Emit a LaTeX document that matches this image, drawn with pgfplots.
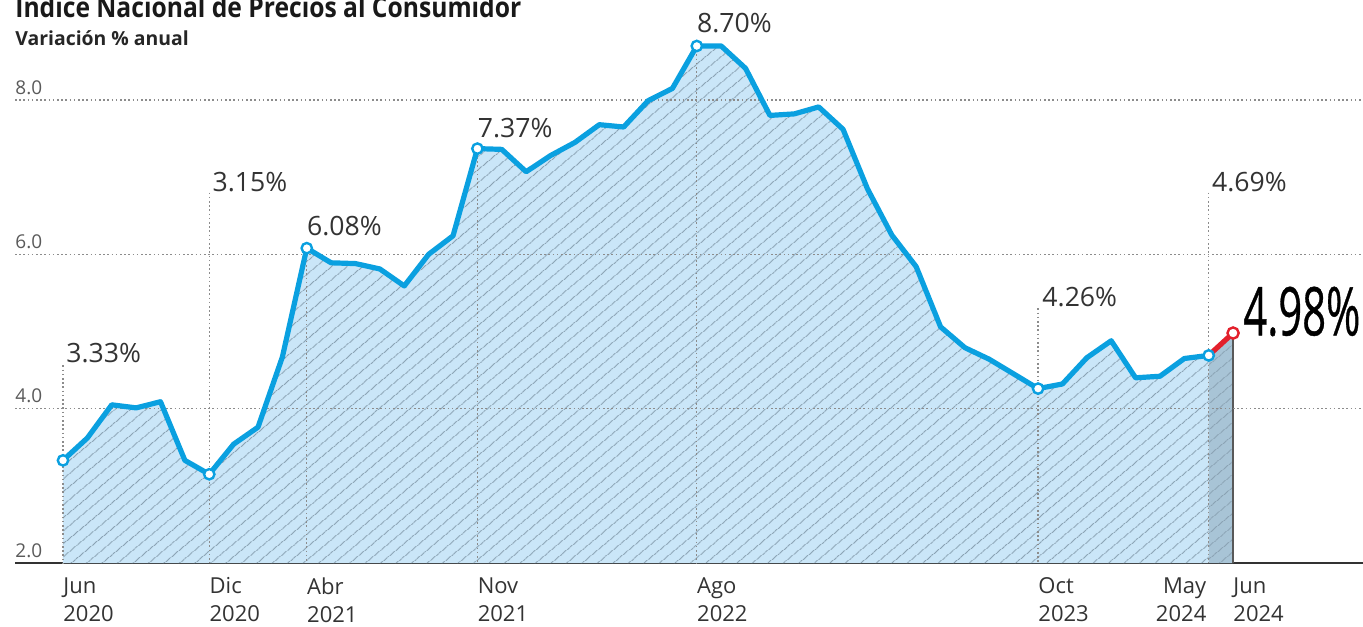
\documentclass[border=0pt]{standalone}
\usepackage{pgfplots}
\pgfplotsset{compat=1.18}
\usepackage{pgfplotstable}
\usepackage{fontspec}
\setmainfont{Open Sans}
\newfontfamily\bigfont{Open Sans}[FakeBold=0.7]
\usepackage{graphicx}
\usetikzlibrary{patterns.meta}
\definecolor{lineblue}{HTML}{0AA0E0}
\definecolor{fillblue}{HTML}{CAE6F8}
\definecolor{hatch}{HTML}{8AA2B3}
\definecolor{darkfill}{HTML}{A8C4D6}
\definecolor{redline}{HTML}{E3202C}
\definecolor{gridgray}{HTML}{8C8C8C}
\definecolor{txt}{HTML}{333333}
\definecolor{ticktxt}{HTML}{5A5A5A}

\pgfplotstableread{
x y
0 3.33
1 3.62
2 4.05
3 4.01
4 4.09
5 3.33
6 3.15
7 3.54
8 3.76
9 4.67
10 6.08
11 5.89
12 5.88
13 5.81
14 5.59
15 6.00
16 6.24
17 7.37
18 7.36
19 7.07
20 7.28
21 7.45
22 7.68
23 7.65
24 7.99
25 8.15
26 8.70
27 8.70
28 8.41
29 7.80
30 7.82
31 7.91
32 7.62
33 6.85
34 6.25
35 5.84
36 5.06
37 4.79
38 4.64
39 4.45
40 4.26
41 4.32
42 4.66
43 4.88
44 4.40
45 4.42
46 4.65
47 4.69
48 4.98
}\inpc

\begin{document}
\begin{tikzpicture}
\begin{axis}[at={(0,0)}, anchor=south west, scale only axis,
  width=674pt, height=281.5pt,
  xmin=-1.969, xmax=53.33, ymin=2, ymax=9.296,
  clip=true, clip mode=individual,
  axis x line*=bottom, axis y line*=left,
  y axis line style={draw=none},
  x axis line style={draw=txt, line width=1.1pt},
  major tick length=0pt,
  ytick={2,4,6,8}, yticklabels={2.0,4.0,6.0,8.0},
  yticklabel style={anchor=south west, inner sep=0pt, yshift=2.5pt,
    font=\fontsize{9.5}{10}\selectfont, text=ticktxt},
  xtick={0,6,10,17,26,40,48},
  xticklabels={Jun\\2020,Dic\\2020,Abr\\2021,Nov\\2021,Ago\\2022,Oct\\2023,Jun\\2024},
  xticklabel style={align=left, anchor=north west, inner sep=0pt, yshift=-7pt,
    font=\fontsize{11}{14}\selectfont, text=txt},
  extra x ticks={47}, extra x tick labels={May\\2024},
  extra x tick style={xticklabel style={align=right, anchor=north east, xshift=-1pt}},
]
% area fills
\addplot[draw=none, fill=fillblue, restrict x to domain=0:47,
  postaction={pattern={Lines[angle=40,distance=5.4pt,line width=0.45pt]}, pattern color=hatch}]
  table[x=x,y=y]{\inpc} \closedcycle;
\addplot[draw=none, fill=darkfill, restrict x to domain=47:48,
  postaction={pattern={Lines[angle=40,distance=5.4pt,line width=0.45pt]}, pattern color=hatch}]
  table[x=x,y=y]{\inpc} \closedcycle;
\draw[black!65, line width=0.8pt] (axis cs:48,2) -- (axis cs:48,4.98);
% grid lines
\draw[gridgray, line width=0.8pt, dash pattern=on 0.8pt off 1.3pt] (axis cs:-1.969,4) -- (axis cs:53.33,4);
\draw[gridgray, line width=0.8pt, dash pattern=on 0.8pt off 1.3pt] (axis cs:-1.969,6) -- (axis cs:53.33,6);
\draw[gridgray, line width=0.8pt, dash pattern=on 0.8pt off 1.3pt] (axis cs:-1.969,8) -- (axis cs:53.33,8);
% vertical dotted guides
\draw[gridgray, line width=0.7pt, dash pattern=on 0.8pt off 1.3pt] (axis cs:0,4.56) -- (axis cs:0,2);
\draw[gridgray, line width=0.7pt, dash pattern=on 0.8pt off 1.3pt] (axis cs:6,6.80) -- (axis cs:6,2);
\draw[gridgray, line width=0.7pt, dash pattern=on 0.8pt off 1.3pt] (axis cs:10,6.08) -- (axis cs:10,2);
\draw[gridgray, line width=0.7pt, dash pattern=on 0.8pt off 1.3pt] (axis cs:17,7.37) -- (axis cs:17,2);
\draw[gridgray, line width=0.7pt, dash pattern=on 0.8pt off 1.3pt] (axis cs:26,8.70) -- (axis cs:26,2);
\draw[gridgray, line width=0.7pt, dash pattern=on 0.8pt off 1.3pt] (axis cs:40,5.30) -- (axis cs:40,2);
\draw[gridgray, line width=0.7pt, dash pattern=on 0.8pt off 1.3pt] (axis cs:47,6.80) -- (axis cs:47,2);
% lines
\addplot[lineblue, line width=2.6pt, line join=round, restrict x to domain=0:47] table[x=x,y=y]{\inpc};
\addplot[redline, line width=2.6pt, line join=round, restrict x to domain=47:48] table[x=x,y=y]{\inpc};
% markers
\addplot[only marks, mark=*, mark size=2.6pt, mark options={fill=white, draw=lineblue, line width=1.2pt}]
  coordinates {(0,3.33) (6,3.15) (10,6.08) (17,7.37) (26,8.70) (40,4.26) (47,4.69)};
\addplot[only marks, mark=*, mark size=2.8pt, mark options={fill=white, draw=redline, line width=1.2pt}]
  coordinates {(48,4.98)};
% value labels
\tikzset{vl/.style={anchor=base west, inner sep=0pt, font=\fontsize{13.3}{14}\selectfont, text=txt}}
\node[vl, xshift=1.5pt] at (axis cs:0,4.60) {3.33\%};
\node[vl, xshift=1.5pt] at (axis cs:6,6.81) {3.15\%};
\node[vl, xshift=0pt] at (axis cs:10,6.24) {6.08\%};
\node[vl, xshift=0pt] at (axis cs:17,7.52) {7.37\%};
\node[vl, xshift=0pt] at (axis cs:26,8.88) {8.70\%};
\node[vl, xshift=2pt] at (axis cs:40,5.33) {4.26\%};
\node[vl, xshift=1.5pt] at (axis cs:47,6.82) {4.69\%};
\node[anchor=base west, inner sep=0pt, text=black, xshift=5pt] at (axis cs:48,4.95)
  {\scalebox{0.62}[1]{\fontsize{33.6}{34}\bigfont 4.98\%}};
% titles
\node[anchor=base west, inner sep=0pt, text=black!90] at (axis cs:-1.969,9.07)
  {\scalebox{0.88}[1]{\fontsize{14}{16}\selectfont\bfseries Indice Nacional de Precios al Consumidor}};
\node[anchor=base west, inner sep=0pt, text=black!85] at (axis cs:-1.969,8.71)
  {\fontsize{9.7}{11}\selectfont\bfseries Variación \% anual};
\end{axis}
\pgfresetboundingbox
\path[use as bounding box] (-7.5pt,-31.5pt) rectangle (674pt,281.5pt);
\end{tikzpicture}
\end{document}
